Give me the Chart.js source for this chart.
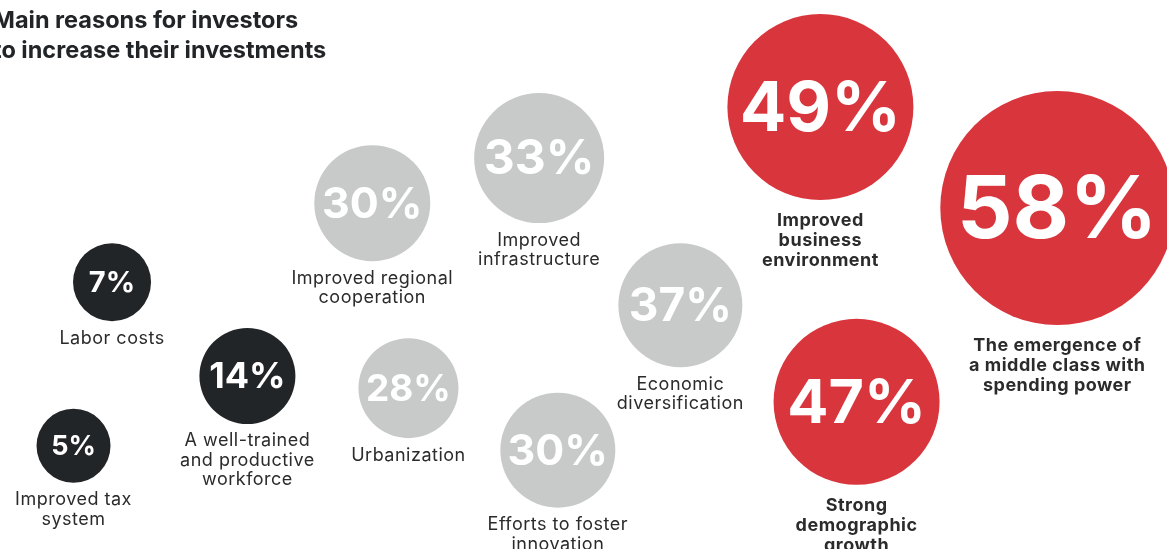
<!DOCTYPE html>
<html>
<head>
<meta charset="utf-8">
<script src="https://cdn.jsdelivr.net/npm/chart.js@4.4.1/dist/chart.umd.min.js"></script>
<style>
  html, body { margin:0; padding:0; background:#fff; }
  #wrap { width:1167px; height:549px; position:relative; }
</style>
</head>
<body>
<div id="wrap"><canvas id="c"></canvas></div>
<script>
(function(){
  // Survey share per reason (%)
  const reasons = [
    ['Labor costs'],
    ['Improved tax', 'system'],
    ['A well-trained', 'and productive', 'workforce'],
    ['Improved regional', 'cooperation'],
    ['Urbanization'],
    ['Improved', 'infrastructure'],
    ['Efforts to foster', 'innovation'],
    ['Economic', 'diversification'],
    ['Improved', 'business', 'environment'],
    ['Strong', 'demographic', 'growth'],
    ['The emergence of', 'a middle class with', 'spending power']
  ];
  const shares = [7, 5, 14, 30, 28, 33, 30, 37, 49, 47, 58];
  // layout of the bubble cloud, in arbitrary 0-100 units (y measured downward)
  const xPos = [9.6, 6.3, 21.2, 31.9, 35.0, 46.2, 47.8, 58.3, 70.3, 73.4, 90.6];
  const yPos = [51.4, 81.2, 68.5, 37.0, 70.7, 28.8, 82.0, 55.6, 19.5, 73.2, 37.9];
  const bubbleR = [39, 37, 48, 58, 50, 65, 57.5, 62, 93, 83, 117];
  const tier = ['low','low','low','mid','mid','mid','mid','mid','high','high','high'];

  const title = ['Main reasons for investors', 'to increase their investments'];

  const fill = { low:'#222527', mid:'#c8cac9', high:'#d8363c' };
  const FONT = 'Inter, "Noto Sans", sans-serif';

  const points = shares.map((v,i) => ({ x: xPos[i], y: yPos[i], r: bubbleR[i], v }));

  const labelPlugin = {
    id: 'bubbleLabels',
    afterDatasetsDraw(chart) {
      const ctx = chart.ctx;
      const meta = chart.getDatasetMeta(0);
      ctx.save();
      ctx.textAlign = 'center';
      ctx.textBaseline = 'middle';
      meta.data.forEach((el, i) => {
        const r = bubbleR[i];
        // number inside
        ctx.letterSpacing = '0px';
        ctx.fillStyle = '#ffffff';
        ctx.font = `700 ${Math.round(r * 0.74)}px ${FONT}`;
        ctx.fillText(shares[i] + '%', el.x, el.y + r * 0.03);
        // caption below
        const bold = tier[i] === 'high';
        const lh = bold ? 20 : 19.5;
        const gap = bold ? 21 : 17;
        ctx.fillStyle = '#2b2b2b';
        ctx.letterSpacing = '0.5px';
        ctx.font = `${bold ? 700 : 400} 18px ${FONT}`;
        reasons[i].forEach((line, k) => {
          ctx.fillText(line, el.x, el.y + r + gap + k * lh);
        });
      });
      // title
      ctx.letterSpacing = '0px';
      ctx.textAlign = 'left';
      ctx.textBaseline = 'alphabetic';
      ctx.fillStyle = '#222527';
      ctx.font = `700 23.5px ${FONT}`;
      title.forEach((line, k) => ctx.fillText(line, -7, 28 + k * 30));
      ctx.restore();
    }
  };

  new Chart(document.getElementById('c'), {
    type: 'bubble',
    data: {
      datasets: [{
        data: points,
        backgroundColor: tier.map(t => fill[t]),
        borderWidth: 0,
        hoverBorderWidth: 0,
        clip: false
      }]
    },
    options: {
      responsive: true,
      maintainAspectRatio: false,
      animation: false,
      events: [],
      layout: { padding: 0, autoPadding: false },
      plugins: { legend: { display: false }, tooltip: { enabled: false } },
      scales: {
        x: { type: 'linear', min: 0, max: 100, display: false },
        y: { type: 'linear', min: 0, max: 100, reverse: true, display: false }
      }
    },
    plugins: [labelPlugin]
  });
})();
</script>
</body>
</html>
